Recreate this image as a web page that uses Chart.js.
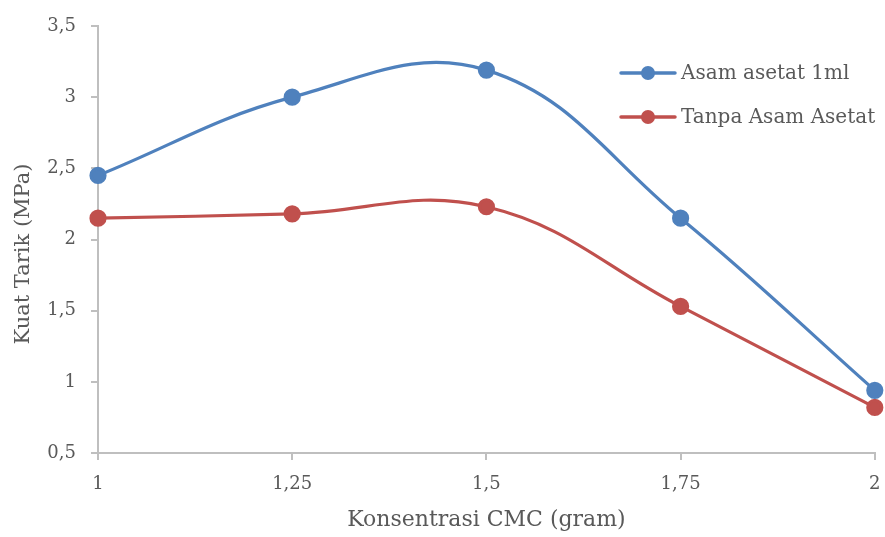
<!DOCTYPE html>
<html>
<head>
<meta charset="utf-8">
<script src="https://cdn.jsdelivr.net/npm/chart.js@4"></script>
<style>
html,body{margin:0;padding:0;background:#fff;}
#wrap{width:885px;height:537px;position:relative;}
</style>
</head>
<body>
<div id="wrap"><canvas id="c" width="885" height="537"></canvas></div>
<script>
const categories = [1, 1.25, 1.5, 1.75, 2];
const seriesNames = ["Asam asetat 1ml", "Tanpa Asam Asetat"];
const asamAsetat = [2.45, 3.0, 3.19, 2.15, 0.94];
const tanpaAsam = [2.15, 2.18, 2.23, 1.53, 0.82];
const yTicks = [0.5, 1, 1.5, 2, 2.5, 3, 3.5];
const xTicks = [1, 1.25, 1.5, 1.75, 2];
const xTitle = "Konsentrasi CMC (gram)";
const yTitle = "Kuat Tarik (MPa)";

const FONT = "'DejaVu Serif', serif";
const BLUE = "#4f81bd", RED = "#c0504d", AXIS = "#bfbfbf", TXT = "#595959";
const fmt = v => String(v).replace('.', ',');

const legendPlugin = {
  id: 'lineLegend',
  afterDraw(chart) {
    const ctx = chart.ctx;
    const items = chart.data.datasets;
    const x0 = 621, y0 = 73, gap = 44;
    ctx.save();
    items.forEach((ds, i) => {
      const y = y0 + i * gap;
      ctx.strokeStyle = ds.borderColor; ctx.lineWidth = 3.5; ctx.lineCap = 'round';
      ctx.beginPath(); ctx.moveTo(x0, y); ctx.lineTo(x0 + 54, y); ctx.stroke();
      ctx.fillStyle = ds.backgroundColor;
      ctx.beginPath(); ctx.arc(x0 + 27, y, 7, 0, Math.PI * 2); ctx.fill();
      ctx.fillStyle = TXT; ctx.font = "20px " + FONT; ctx.textBaseline = 'middle';
      ctx.fillText(ds.label, x0 + 60, y + 1);
    });
    // y axis title
    ctx.translate(24, 254);
    ctx.rotate(-Math.PI / 2);
    ctx.font = "21px " + FONT; ctx.textAlign = 'center'; ctx.textBaseline = 'middle';
    ctx.fillStyle = TXT;
    ctx.fillText(yTitle, 0, 0);
    ctx.restore();
  }
};

new Chart(document.getElementById('c'), {
  type: 'line',
  data: {
    datasets: [
      { label: seriesNames[0], data: categories.map((x, i) => ({x, y: asamAsetat[i]})),
        borderColor: BLUE, backgroundColor: BLUE, borderWidth: 3.2, pointRadius: 7, pointHoverRadius: 7,
        tension: 0.4, clip: false },
      { label: seriesNames[1], data: categories.map((x, i) => ({x, y: tanpaAsam[i]})),
        borderColor: RED, backgroundColor: RED, borderWidth: 3.2, pointRadius: 7, pointHoverRadius: 7,
        tension: 0.4, clip: false }
    ]
  },
  options: {
    responsive: false, animation: false, devicePixelRatio: 1,
    layout: { padding: { top: 26, right: 9, left: 0, bottom: 0 } },
    plugins: { legend: { display: false }, tooltip: { enabled: false } },
    scales: {
      x: {
        type: 'linear', min: 1, max: 2,
        afterBuildTicks: s => { s.ticks = xTicks.map(v => ({ value: v })); },
        afterFit: s => { s.height = 84; s.paddingLeft = 0; s.paddingRight = 0; },
        grid: { display: true, drawOnChartArea: false, drawTicks: true, tickLength: 7, color: AXIS, lineWidth: 2 },
        border: { color: AXIS, width: 2 },
        ticks: { color: TXT, font: { family: FONT, size: 18 }, padding: 14, callback: v => fmt(v), maxRotation: 0 },
        title: { display: true, text: xTitle, color: TXT, font: { family: FONT, size: 22 }, padding: { top: 4, bottom: 4 } }
      },
      y: {
        min: 0.5, max: 3.5,
        afterBuildTicks: s => { s.ticks = yTicks.map(v => ({ value: v })); },
        afterFit: s => { s.width = 98; s.paddingTop = 0; s.paddingBottom = 0; },
        grid: { display: true, drawOnChartArea: false, drawTicks: true, tickLength: 7, color: AXIS, lineWidth: 2 },
        border: { color: AXIS, width: 2 },
        ticks: { color: TXT, font: { family: FONT, size: 18 }, padding: 15, callback: v => fmt(v) },
        title: { display: false, text: yTitle }
      }
    }
  },
  plugins: [legendPlugin]
});
</script>
</body>
</html>
